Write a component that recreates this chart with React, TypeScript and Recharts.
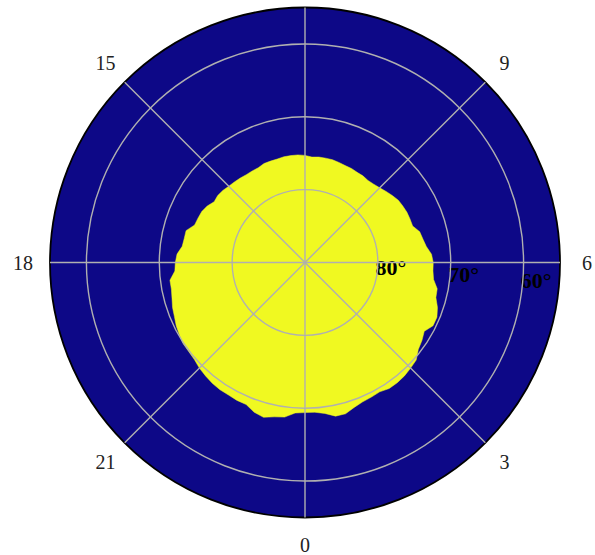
import React from "react";
import {
	RadarChart,
	Radar,
	PolarGrid,
	PolarAngleAxis,
	PolarRadiusAxis,
} from "recharts";

// magnetic local time, one sample every 15 minutes
const mltHours = Array.from({ length: 96 }, (_, i) => i * 0.25);

// equatorward edge of the yellow region (magnetic latitude, deg)
const boundaryLat = [
	69.4, 69.4, 69.1, 68.5, 68.5, 69.0, 69.3, 69.4, 69.5, 69.2, 69.2, 69.3,
	69.5, 69.7, 70.4, 70.7, 71.1, 70.4, 70.4, 70.8, 71.4, 71.5, 72.2, 72.4,
	72.4, 72.6, 73.2, 73.5, 73.7, 74.4, 74.4, 74.4, 74.5, 74.6, 74.9, 75.2,
	75.5, 75.7, 75.8, 75.7, 75.7, 75.6, 75.6, 75.5, 75.4, 75.4, 75.4, 75.5,
	75.3, 75.2, 75.2, 75.2, 75.3, 75.3, 75.3, 75.5, 75.5, 75.5, 75.4, 75.3,
	75.2, 75.0, 74.9, 75.0, 74.5, 74.2, 74.1, 74.0, 73.1, 73.1, 73.0, 72.4,
	72.2, 72.1, 71.3, 71.3, 71.1, 70.8, 70.6, 70.3, 70.1, 69.9, 69.9, 69.8,
	69.5, 69.3, 69.1, 69.0, 69.0, 68.9, 68.9, 68.3, 68.0, 68.4, 68.6, 69.3,
];

const minLat = 55;
const hourTicks = [0, 3, 6, 9, 12, 15, 18, 21];
const latTicks = [80, 70, 60];

const data = mltHours.map((mlt, i) => ({
	mlt,
	edge: 90 - minLat,
	oval: 90 - boundaryLat[i],
}));

const CX = 305;
const CY = 262.5;
const OUTER = 255;
const LABEL_R = 282;
const FONT = "'Liberation Serif', 'DejaVu Serif', serif";

const AngleTick = (props: any) => {
	const { payload } = props;
	const a = (-payload.coordinate * Math.PI) / 180;
	const x = CX + LABEL_R * Math.cos(a);
	const y = CY + LABEL_R * Math.sin(a);
	// the 12 label falls above the page, as in the original
	if (y < 0) return null;
	return (
		<text
			x={x}
			y={y}
			textAnchor="middle"
			dominantBaseline="central"
			fontFamily={FONT}
			fontSize={20}
			fill="#222"
		>
			{payload.value}
		</text>
	);
};

const RadiusTick = (props: any) => {
	const { x, y, payload } = props;
	return (
		<text
			x={x - 2}
			y={y - 1}
			textAnchor="start"
			dominantBaseline="central"
			fontFamily={FONT}
			fontSize={22}
			fontWeight="bold"
			fill="#000"
		>
			{`${90 - payload.value}°`}
		</text>
	);
};

const App = () => {
	return (
		<div
			style={{
				position: "absolute",
				left: 0,
				top: 0,
				width: 595,
				height: 555,
				background: "#fff",
			}}
		>
			<RadarChart
				width={595}
				height={555}
				data={data}
				cx={CX}
				cy={CY}
				outerRadius={OUTER}
				startAngle={-90}
				endAngle={270}
				margin={{ top: 0, right: 0, bottom: 0, left: 0 }}
			>
				<Radar
					dataKey="edge"
					fill="#0d0887"
					fillOpacity={1}
					stroke="none"
					dot={false}
					isAnimationActive={false}
				/>
				<Radar
					dataKey="oval"
					fill="#f0f921"
					fillOpacity={1}
					stroke="#f0f921"
					strokeWidth={0.5}
					dot={false}
					isAnimationActive={false}
				/>
				<PolarGrid
					gridType="circle"
					stroke="#b0b0b0"
					strokeWidth={1.4}
					zIndex={700}
				/>
				<PolarAngleAxis
					dataKey="mlt"
					type="number"
					domain={[0, 24]}
					ticks={hourTicks}
					axisLineType="circle"
					axisLine={{ stroke: "#000", strokeWidth: 1.8 }}
					tickLine={false}
					tick={<AngleTick />}
				/>
				<PolarRadiusAxis
					type="number"
					domain={[0, 90 - minLat]}
					ticks={latTicks.map((l) => 90 - l)}
					angle={-5}
					axisLine={false}
					tickLine={false}
					tick={<RadiusTick />}
				/>
			</RadarChart>
		</div>
	);
};

export default App;
